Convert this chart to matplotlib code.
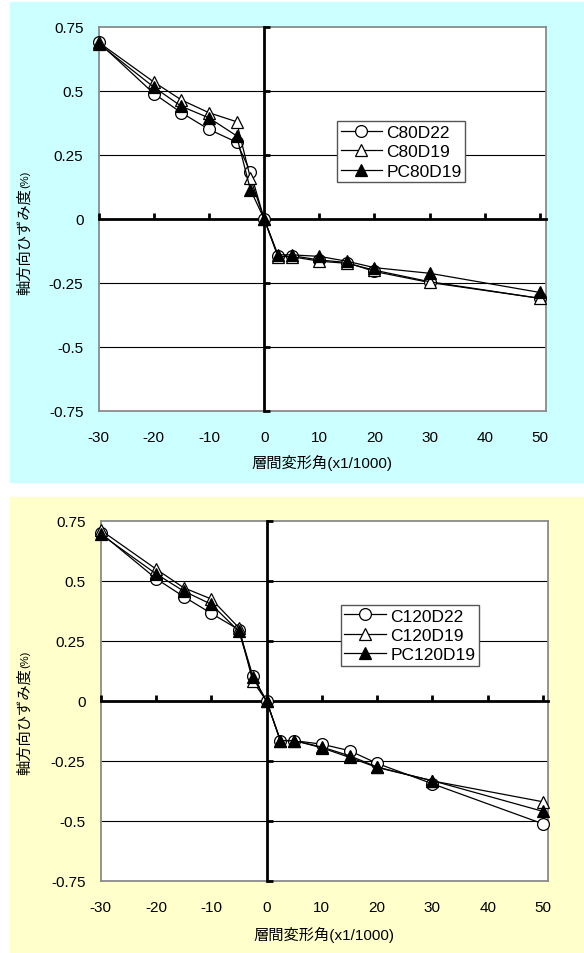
import matplotlib as mpl
import matplotlib.pyplot as plt
from matplotlib.patches import Rectangle

mpl.rcParams['font.family'] = ['Liberation Sans', 'Noto Sans CJK JP']
mpl.rcParams['axes.unicode_minus'] = False

# drift angle (x1/1000)
drift = [-30, -20, -15, -10, -5, -2.5, 0, 2.5, 5, 10, 15, 20, 30, 50]

# axial strain (%) - C80 series
c80d22 = [0.69, 0.49, 0.415, 0.35, 0.30, 0.185, 0, -0.143, -0.143, -0.16, -0.17, -0.205, -0.248, -0.31]
c80d19 = [0.69, 0.535, 0.465, 0.415, 0.38, 0.16, 0, -0.147, -0.147, -0.165, -0.173, -0.2, -0.245, -0.31]
pc80d19 = [0.685, 0.515, 0.44, 0.395, 0.325, 0.115, 0, -0.14, -0.14, -0.146, -0.165, -0.19, -0.212, -0.287]

# axial strain (%) - C120 series
c120d22 = [0.70, 0.51, 0.435, 0.365, 0.297, 0.105, 0, -0.165, -0.165, -0.18, -0.207, -0.26, -0.345, -0.512]
c120d19 = [0.712, 0.55, 0.472, 0.425, 0.305, 0.083, 0, -0.165, -0.165, -0.192, -0.228, -0.275, -0.333, -0.42]
pc120d19 = [0.695, 0.53, 0.458, 0.403, 0.29, 0.099, 0, -0.165, -0.165, -0.195, -0.235, -0.277, -0.332, -0.46]

xticks = [-30, -20, -10, 0, 10, 20, 30, 40, 50]
yticks = [0.75, 0.5, 0.25, 0, -0.25, -0.5, -0.75]
ytick_labels = ['0.75', '0.5', '0.25', '0', '-0.25', '-0.5', '-0.75']

W, H = 584, 954
fig = plt.figure(figsize=(W / 100, H / 100), dpi=100)

# panel backgrounds
fig.patches.append(Rectangle((10 / W, 1 - 483 / H), 1 - 10 / W, 480 / H,
                             transform=fig.transFigure, color='#CCFFFF', zorder=-10))
fig.patches.append(Rectangle((10 / W, 0), 1 - 10 / W, 1 - 498 / H,
                             transform=fig.transFigure, color='#FFFFCC', zorder=-10))


def panel(box, series, names, xmax, leg_anchor, ylab_px, xlab_px):
    l, t, r, b = box
    ax = fig.add_axes([l / W, 1 - b / H, (r - l) / W, (b - t) / H])
    ax.set_facecolor('white')
    ax.set_xlim(-30, xmax)
    ax.set_ylim(-0.75, 0.75)
    ax.set_xticks(xticks)
    ax.set_xticklabels([str(v) for v in xticks])
    ax.set_yticks(yticks)
    ax.set_yticklabels(ytick_labels)
    ax.tick_params(length=0, labelsize=11)
    ax.tick_params(axis='x', pad=14)
    ax.tick_params(axis='y', pad=11)
    for s in ax.spines.values():
        s.set_color('#8a8a8a')
        s.set_linewidth(1.3)
    for v in [0.5, 0.25, -0.25, -0.5]:
        ax.axhline(v, color='black', lw=0.8, zorder=1)

    # zero-crossing axes with tick marks
    tx = ax.twiny()
    tx.set_xlim(ax.get_xlim())
    tx.set_xticks(xticks)
    tx.tick_params(axis='x', direction='out', length=4, width=2, labeltop=False, color='black')
    for k, s in tx.spines.items():
        s.set_visible(k == 'top')
    tx.spines['top'].set_position(('data', 0))
    tx.spines['top'].set_linewidth(2)
    tx.spines['top'].set_color('black')

    ty = ax.twinx()
    ty.set_ylim(ax.get_ylim())
    ty.set_yticks(yticks)
    ty.tick_params(axis='y', direction='out', length=4, width=2, labelright=False, color='black')
    for k, s in ty.spines.items():
        s.set_visible(k == 'right')
    ty.spines['right'].set_position(('data', 0))
    ty.spines['right'].set_linewidth(2)
    ty.spines['right'].set_color('black')

    styles = [('o', 'white', 8.5), ('^', 'white', 9), ('^', 'black', 9)]
    hs = []
    for ys, name, (m, fc, ms) in zip(series, names, styles):
        h, = ty.plot(drift, ys, color='black', lw=0.9, marker=m, ms=ms,
                     mfc=fc, mec='black', mew=0.9, label=name, zorder=3, clip_on=False)
        hs.append(h)
    leg = ty.legend(handles=hs, loc='upper left', bbox_to_anchor=leg_anchor,
                    borderaxespad=0, fontsize=12.5, frameon=True, fancybox=False,
                    handlelength=2.4, handletextpad=0.25, labelspacing=0.25,
                    borderpad=0.2, framealpha=1)
    leg.get_frame().set_edgecolor('#555555')
    leg.get_frame().set_linewidth(1)

    cx = (l + r) / 2
    fig.text(cx / W, 1 - xlab_px / H, '層間変形角(x1/1000)', ha='center', va='center',
             fontsize=11)
    yb, yt = ylab_px
    fig.text(25 / W, 1 - yb / H, '軸方向ひずみ度', rotation=90, ha='center', va='bottom',
             fontsize=11, family=['Noto Sans CJK JP'])
    fig.text(25 / W, 1 - yt / H, '(%)', rotation=90, ha='center', va='bottom',
             fontsize=8, family=['Liberation Sans'])


panel((98.7, 28, 546, 412), [c80d22, c80d19, pc80d19], ['C80D22', 'C80D19', 'PC80D19'],
      51.1, (0.533, 0.755), (295, 188), 463)
panel((100.7, 522, 548, 882), [c120d22, c120d19, pc120d19], ['C120D22', 'C120D19', 'PC120D19'],
      50.9, (0.537, 0.767), (775, 668), 935)

fig.savefig('out.png', dpi=100)
